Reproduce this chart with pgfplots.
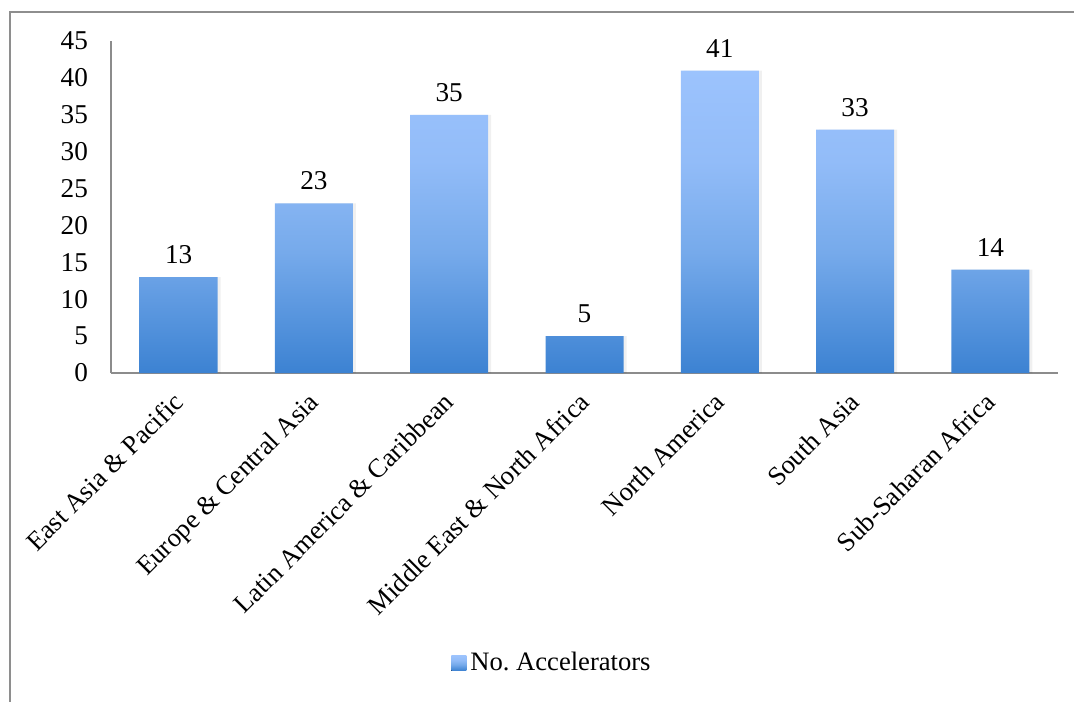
\documentclass[border=0pt]{standalone}
\usepackage{pgfplots}
\pgfplotsset{compat=1.18}
\usepackage{fontspec}
\setmainfont{Liberation Serif}

\definecolor{barTop}{HTML}{9CC3FD}
\definecolor{barUp}{HTML}{92BCF8}
\definecolor{barMid}{HTML}{76AAEB}
\definecolor{barBot}{HTML}{3C82D2}
\definecolor{axisGray}{HTML}{8C8C8C}
\definecolor{frameGray}{HTML}{8E8E8E}

% vertical gradient used for every bar: light on top, darker towards the base
\pgfdeclareverticalshading{barshade}{100bp}{%
  color(0bp)=(barBot); color(25bp)=(barBot); color(45bp)=(barMid);
  color(60bp)=(barUp); color(75bp)=(barTop); color(100bp)=(barTop)}

\newcommand\fsz{\fontsize{13.3}{16}\selectfont}
\newcommand\nsz{\fontsize{13.6}{16}\selectfont}

\pgfplotstableread{
x  n
0  13
1  23
2  35
3  5
4  41
5  33
6  14
}\accel

\begin{document}
\begin{tikzpicture}
\useasboundingbox (0,0) rectangle (537pt,350.5pt);
% outer chart frame
\draw[draw=frameGray, line width=1pt] (4.75pt,-2pt) -- (4.75pt,344.3pt) -- (540pt,344.3pt);
\begin{axis}[
  at={(55.5pt,164pt)}, anchor=south west,
  scale only axis, width=473.5pt, height=166pt,
  xmin=-0.5, xmax=6.5, ymin=0, ymax=45,
  ybar, bar width=39pt,
  axis x line*=bottom, axis y line*=left,
  axis line style={draw=axisGray, line width=0.8pt, -},
  xtick={0,...,6},
  xticklabels={East Asia \& Pacific, Europe \& Central Asia, Latin America \& Caribbean,
    Middle East \& North Africa, North America, South Asia, Sub-Saharan Africa},
  ytick={0,5,...,45},
  major tick length=0pt,
  tick style={draw=none},
  /pgf/number format/assume math mode=true,
  tick label style={text=black},
  yticklabel style={font=\nsz, xshift=-8pt},
  xticklabel style={font=\fsz, xshift=-3.5pt, yshift=-4pt, rotate=45, anchor=north east},
  legend style={at={(0.4667,-0.8735)}, anchor=center, draw=none, font=\fsz},
  legend image code/.code={\fill[shading=barshade] (-2pt,-3.75pt) rectangle (5.5pt,3.75pt);},
]
% soft shadow to the right of each bar
\addplot[draw=none, fill=black, fill opacity=0.06, bar shift=1.5pt, forget plot]
  table[x=x, y=n] {\accel};
\addplot[draw=none, shading=barshade,
  nodes near coords,
  every node near coord/.append style={font=\nsz, text=black, yshift=3pt}]
  table[x=x, y=n] {\accel};
\legend{No.\ Accelerators}
\end{axis}
\end{tikzpicture}
\end{document}
